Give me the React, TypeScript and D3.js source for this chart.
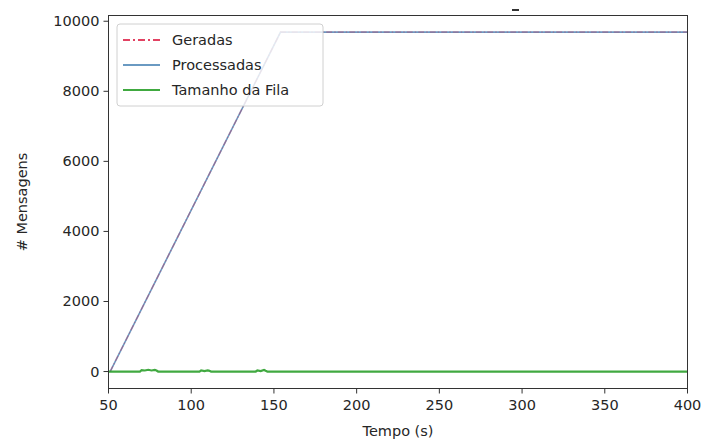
import React from "react";
import * as d3 from "d3";

const rampTimes = [51, 154, 400];
const geradas = [0, 9690, 9690];
const processadas = [0, 9690, 9690];

const queueTimes = [50, 69, 70, 72, 74, 76, 78, 79, 80, 105, 106, 108, 110, 111, 112, 139, 140, 142, 144, 145, 146, 400];
const queueValues = [0, 0, 40, 30, 50, 30, 45, 30, 0, 0, 35, 15, 35, 20, 0, 0, 30, 15, 45, 20, 0, 0];

const xTicks = [50, 100, 150, 200, 250, 300, 350, 400];
const yTicks = [0, 2000, 4000, 6000, 8000, 10000];

const legendLabels = ["Geradas", "Processadas", "Tamanho da Fila"];

const W = 702, H = 443;
const L = 108.5, R = 687.5, T = 15.5, B = 388.5;

export default function App() {
  const x = d3.scaleLinear().domain([50, 400]).range([L, R]);
  const y = d3.scaleLinear().domain([-484, 10164]).range([B, T]);
  const line = d3.line<[number, number]>().x(d => x(d[0])).y(d => y(d[1]));
  const gPts = rampTimes.map((t, i) => [t, geradas[i]] as [number, number]);
  const pPts = rampTimes.map((t, i) => [t, processadas[i]] as [number, number]);
  const qPts = queueTimes.map((t, i) => [t, queueValues[i]] as [number, number]);
  const font = "DejaVu Sans, sans-serif";
  const axisColor = "#333";
  const legendStyles = [
    { stroke: "#dc143c", dash: "7,3,2,3", opacity: 0.8 },
    { stroke: "#4682b4", dash: undefined, opacity: 0.8 },
    { stroke: "#2ca02c", dash: undefined, opacity: 0.9 },
  ];
  return (
    <svg width={W} height={H} style={{ position: "absolute", left: 0, top: 0, background: "#fff" }} fontFamily={font}>
      <rect x={0} y={0} width={W} height={H} fill="#fff" />
      <defs>
        <clipPath id="plot">
          <rect x={L} y={T} width={R - L} height={B - T} />
        </clipPath>
      </defs>
      <g clipPath="url(#plot)">
        <path d={line(pPts) || ""} fill="none" stroke="#4682b4" strokeWidth={1.6} opacity={0.8} />
        <path d={line(gPts) || ""} fill="none" stroke="#dc143c" strokeWidth={1.5} strokeDasharray="6,2,1.5,2" opacity={0.3} />
        <path d={line(qPts) || ""} fill="none" stroke="#2ca02c" strokeWidth={2.2} opacity={0.9} />
      </g>
      <rect x={L} y={T} width={R - L} height={B - T} fill="none" stroke={axisColor} strokeWidth={1} />
      {xTicks.map(t => (
        <g key={"x" + t}>
          <line x1={x(t)} x2={x(t)} y1={B} y2={B + 5} stroke={axisColor} />
          <text x={x(t)} y={B + 21} fontSize={14.5} textAnchor="middle" fill="#262626">{t}</text>
        </g>
      ))}
      {yTicks.map(t => (
        <g key={"y" + t}>
          <line x1={L - 5} x2={L} y1={y(t)} y2={y(t)} stroke={axisColor} />
          <text x={L - 9} y={y(t) + 5} fontSize={14.5} textAnchor="end" fill="#262626">{t}</text>
        </g>
      ))}
      <text x={(L + R) / 2} y={436} fontSize={14.5} textAnchor="middle" fill="#262626">Tempo (s)</text>
      <text transform={`translate(27,${(T + B) / 2}) rotate(-90)`} fontSize={14.5} textAnchor="middle" fill="#262626"># Mensagens</text>
      <rect x={512} y={9} width={7} height={2} fill="#333" />
      <g>
        <rect x={117} y={24} width={206} height={82} rx={3} fill="#fff" fillOpacity={0.8} stroke="#d0d0d0" />
        {legendLabels.map((lab, i) => {
          const cy = 40 + i * 25;
          const s = legendStyles[i];
          return (
            <g key={lab}>
              <line x1={123} x2={160} y1={cy} y2={cy} stroke={s.stroke} strokeWidth={2} strokeDasharray={s.dash} opacity={s.opacity} />
              <text x={172} y={cy + 5} fontSize={14.5} fill="#262626">{lab}</text>
            </g>
          );
        })}
      </g>
    </svg>
  );
}
